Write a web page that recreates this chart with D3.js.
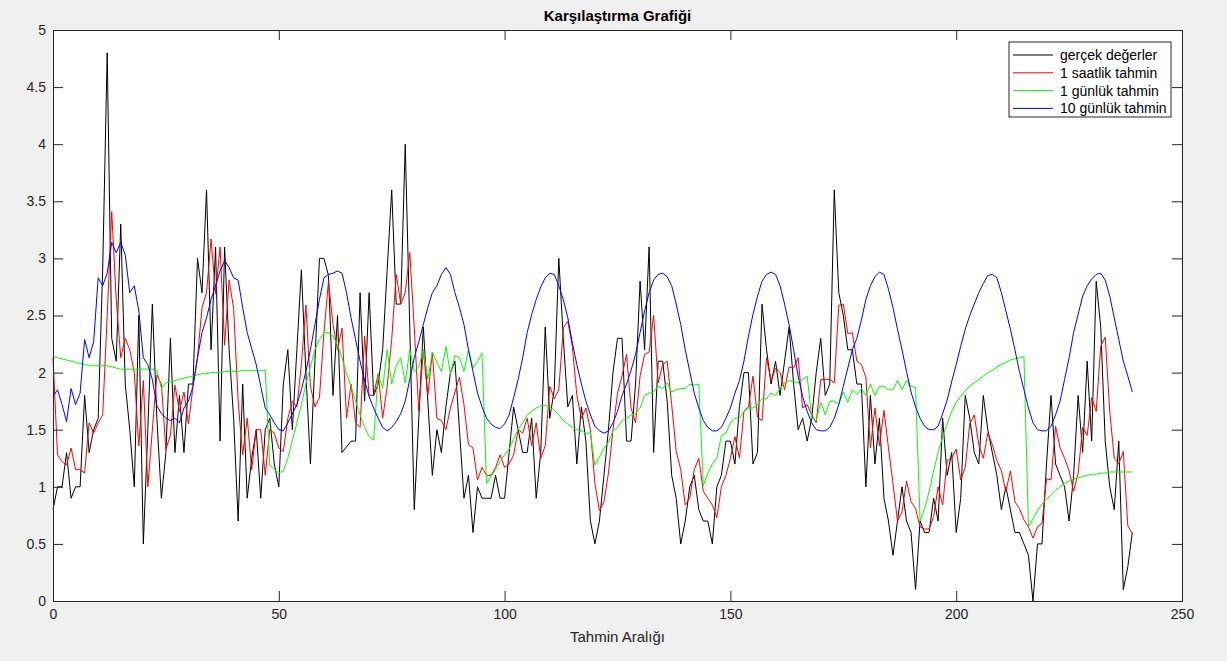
<!DOCTYPE html>
<html>
<head>
<meta charset="utf-8">
<script src="https://cdn.jsdelivr.net/npm/d3@7"></script>
<style>
  body { margin: 0; background: #f0f0f0; }
  svg { display: block; font-family: "Liberation Sans", Arial, sans-serif; }
</style>
</head>
<body>
<script>
// gerçek değerler (black)
const actual = [
  0.8, 1.0, 1.0, 1.3, 0.9, 1.0, 1.0, 1.8, 1.3, 1.5,
  1.6, 2.9, 4.8, 2.3, 2.1, 3.3, 1.9, 1.5, 1.0, 2.5,
  0.5, 1.5, 2.6, 1.6, 0.9, 1.3, 2.3, 1.3, 1.8, 1.3,
  1.9, 1.9, 3.0, 2.7, 3.6, 2.2, 3.1, 1.4, 3.1, 2.2,
  1.6, 0.7, 1.9, 0.9, 1.25, 1.5, 0.9, 1.5, 1.6, 1.2,
  1.0, 1.9, 2.2, 1.5, 2.2, 2.9, 2.0, 1.2, 2.1, 3.0,
  3.0, 2.85, 1.8, 2.5, 1.3, 1.35, 1.4, 1.4, 2.7, 1.75,
  2.7, 1.8, 1.9, 2.2, 2.9, 3.6, 2.6, 2.6, 4.0, 2.4,
  0.8, 1.6, 2.4, 1.75, 1.1, 1.5, 1.3, 1.7, 2.0, 2.1,
  1.5, 0.9, 1.1, 0.6, 1.0, 0.9, 0.9, 0.9, 1.1, 0.9,
  0.9, 1.3, 1.7, 1.5, 1.3, 1.3, 1.6, 0.9, 1.3, 2.4,
  1.6, 1.85, 3.0, 2.3, 1.7, 1.8, 1.2, 1.7, 1.4, 0.7,
  0.5, 0.7, 1.1, 1.5, 2.0, 2.3, 2.3, 1.4, 1.4, 1.9,
  2.8, 2.2, 3.1, 1.3, 2.1, 2.1, 1.75, 1.1, 0.9, 0.5,
  0.7, 1.0, 1.1, 0.8, 0.7, 0.7, 0.5, 1.0, 1.1, 1.4,
  1.4, 1.2, 1.7, 2.0, 2.0, 1.2, 1.3, 2.6, 2.2, 1.9,
  2.1, 1.8, 2.1, 2.4, 1.9, 1.5, 1.6, 1.4, 1.6, 2.0,
  2.3, 1.8, 1.9, 3.6, 2.7, 2.5, 2.2, 2.2, 1.9, 1.9,
  1.0, 1.8, 1.2, 1.6, 0.9, 0.7, 0.4, 0.7, 1.0, 0.7,
  0.6, 0.1, 0.7, 0.6, 0.6, 0.9, 0.7, 1.6, 1.1, 1.3,
  0.6, 0.9, 1.8, 1.6, 1.3, 1.2, 1.8, 1.5, 1.3, 1.1,
  0.8, 1.0, 0.8, 0.6, 0.6, 0.5, 0.4, 0.0, 0.5, 0.5,
  1.2, 1.8, 1.2, 1.1, 1.0, 0.7, 1.1, 1.8, 1.3, 2.1,
  1.4, 2.8, 2.4, 1.4, 1.0, 0.8, 1.4, 0.1, 0.3, 0.6
];

// 1 saatlik tahmin (red)
const hourly = [
  2.13, 1.28, 1.22, 1.19, 1.34, 1.15, 1.15, 1.12, 1.56, 1.47,
  1.56, 1.63, 2.5, 3.41, 2.64, 2.13, 2.3, 2.2, 2.0, 1.36,
  1.93, 1.0, 1.5, 1.98, 1.9, 1.33, 1.45, 1.89, 1.66, 1.83,
  1.55, 1.88, 2.13, 2.57, 2.7, 3.17, 2.69, 3.1, 2.24, 2.81,
  2.56, 1.75, 1.28, 1.6, 1.15, 1.5, 1.5, 1.1, 1.5, 1.47,
  1.34, 1.31, 1.6, 1.75, 1.7, 2.07, 2.59, 1.88, 1.7, 1.78,
  2.35, 2.8, 2.42, 2.2, 2.39, 1.6, 1.9, 1.56, 1.52, 2.32,
  1.8, 1.8, 1.99, 1.6, 1.88, 2.29, 2.86, 2.6, 2.7, 3.05,
  2.39, 1.66, 2.2, 1.8, 2.18, 1.6, 1.58, 1.5, 1.69, 1.83,
  1.96, 1.72, 1.37, 1.34, 1.06, 1.17, 1.1, 1.1, 1.17, 1.28,
  1.17, 1.2, 1.28, 1.5, 1.47, 1.6, 1.36, 1.56, 1.25, 1.36,
  1.88, 1.77, 1.85, 2.39, 2.45, 2.23, 1.8, 1.6, 1.69, 1.5,
  1.03, 0.79, 0.87, 1.12, 1.5, 1.82, 1.97, 2.16, 1.69, 1.56,
  1.97, 2.16, 2.18, 2.5, 1.91, 2.07, 2.1, 1.72, 1.31, 1.15,
  0.84, 0.9, 1.15, 1.25, 0.96, 0.9, 0.84, 0.73, 1.0, 1.1,
  1.25, 1.44, 1.25, 1.66, 1.7, 1.97, 1.61, 1.58, 2.13, 1.93,
  2.04, 2.0, 1.85, 2.05, 2.04, 2.13, 1.69, 1.72, 1.63, 1.56,
  1.94, 1.94, 1.94, 1.91, 2.59, 2.6, 2.34, 2.35, 2.1, 2.07,
  1.96, 1.34, 1.69, 1.36, 1.67, 1.34, 1.03, 0.7, 0.78, 1.05,
  0.87, 0.81, 0.65, 0.63, 0.63, 0.74, 1.0, 0.84, 1.23, 1.25,
  1.33, 1.06, 1.17, 1.55, 1.63, 1.37, 1.25, 1.47, 1.37, 1.23,
  1.14, 0.96, 1.14, 0.87, 0.81, 0.71, 0.65, 0.55, 0.65, 0.68,
  1.07, 1.06, 1.53, 1.34, 1.25, 1.14, 0.96, 1.12, 1.52, 1.45,
  1.78, 1.66, 2.23, 2.31, 1.66, 1.25, 1.2, 1.31, 0.66, 0.59
];

// 1 günlük tahmin (green)
const daily = [
  2.14, 2.13, 2.12, 2.11, 2.10, 2.09, 2.08, 2.07, 2.06, 2.06,
  2.06, 2.06, 2.06, 2.05, 2.04, 2.03, 2.03, 2.03, 2.03, 2.03,
  2.03, 2.03, 2.03, 2.02, 1.86, 1.91, 1.92, 1.93, 1.94, 1.95,
  1.96, 1.97, 1.98, 1.99, 1.99, 2.0, 2.0, 2.0, 2.01, 2.01,
  2.01, 2.01, 2.02, 2.02, 2.02, 2.02, 2.02, 2.02, 1.19, 1.15,
  1.12, 1.14, 1.25, 1.41, 1.56, 1.72, 1.9, 2.05, 2.2, 2.29,
  2.35, 2.35, 2.32, 2.24, 2.13, 1.99, 1.88, 1.75, 1.63, 1.52,
  1.44, 1.41, 1.99, 1.86, 2.2, 1.9, 2.06, 2.13, 1.91, 2.2,
  2.01, 2.05, 2.2, 1.94, 2.18, 2.09, 2.01, 2.23, 1.99, 2.15,
  2.13, 2.01, 2.2, 2.04, 2.1, 2.17, 1.03, 1.09, 1.15, 1.22,
  1.28, 1.33, 1.42, 1.5, 1.56, 1.63, 1.66, 1.69, 1.71, 1.71,
  1.7, 1.67, 1.63, 1.58, 1.55, 1.52, 1.5, 1.49, 1.47, 1.47,
  1.19, 1.26, 1.34, 1.39, 1.49, 1.52, 1.58, 1.6, 1.63, 1.64,
  1.69, 1.8, 1.82, 1.83, 1.88, 1.86, 1.91, 1.83, 1.85, 1.86,
  1.86, 1.9, 1.89, 1.9, 1.01, 1.12, 1.2, 1.25, 1.45, 1.47,
  1.56, 1.6, 1.6, 1.66, 1.69, 1.69, 1.72, 1.77, 1.77, 1.82,
  1.8, 1.86, 1.91, 1.93, 1.92, 1.91, 1.94, 1.97, 1.6, 1.58,
  1.74, 1.63, 1.75, 1.75, 1.72, 1.83, 1.74, 1.85, 1.81, 1.86,
  1.8, 1.9, 1.8, 1.88, 1.88, 1.85, 1.85, 1.93, 1.85, 1.93,
  1.88, 1.87, 0.7, 0.81, 0.96, 1.14, 1.3, 1.44, 1.55, 1.66,
  1.74, 1.79, 1.84, 1.88, 1.91, 1.94, 1.97, 2.0, 2.02, 2.05,
  2.07, 2.09, 2.11, 2.12, 2.13, 2.14, 0.65, 0.72, 0.79, 0.85,
  0.89, 0.93, 0.97, 1.0, 1.03, 1.05, 1.07, 1.08, 1.09, 1.1,
  1.11, 1.11, 1.12, 1.12, 1.13, 1.13, 1.13, 1.13, 1.13, 1.13
];

// 10 günlük tahmin (blue)
const tenDay = [
  1.79, 1.85, 1.72, 1.57, 1.86, 1.72, 1.82, 2.29, 2.13, 2.27,
  2.83, 2.76, 2.87, 3.14, 3.05, 3.14, 3.03, 2.7, 2.76, 2.54,
  2.13, 2.07, 1.94, 1.71, 1.64, 1.6, 1.58, 1.6, 1.56, 1.69,
  1.75, 1.88, 2.13, 2.35, 2.48, 2.64, 2.76, 2.89, 2.98, 2.92,
  2.83, 2.81, 2.57, 2.35, 2.21, 2.07, 1.88, 1.69, 1.63, 1.56,
  1.5, 1.49, 1.56, 1.64, 1.72, 1.85, 2.01, 2.2, 2.42, 2.64,
  2.83, 2.86, 2.87, 2.89, 2.87, 2.7, 2.48, 2.29, 2.1, 1.93,
  1.79, 1.69, 1.6, 1.52, 1.49, 1.52, 1.57, 1.64, 1.75, 1.94,
  2.13, 2.27, 2.42, 2.57, 2.7, 2.76, 2.86, 2.92, 2.86, 2.7,
  2.57, 2.42, 2.2, 2.01, 1.82, 1.7, 1.6, 1.55, 1.52, 1.51,
  1.55, 1.63, 1.78, 1.94, 2.13, 2.35, 2.51, 2.64, 2.75, 2.83,
  2.87, 2.86, 2.76, 2.64, 2.48, 2.26, 2.07, 1.9, 1.75, 1.63,
  1.53, 1.49, 1.47, 1.49, 1.56, 1.66, 1.8, 1.9, 2.02, 2.16,
  2.35, 2.54, 2.7, 2.81, 2.86, 2.87, 2.84, 2.76, 2.6, 2.42,
  2.2, 2.01, 1.82, 1.69, 1.58, 1.52, 1.49, 1.49, 1.52, 1.6,
  1.69, 1.82, 1.93, 2.1, 2.32, 2.51, 2.67, 2.8, 2.86, 2.88,
  2.86, 2.76, 2.6, 2.42, 2.2, 1.97, 1.79, 1.66, 1.56, 1.5,
  1.49, 1.49, 1.52, 1.6, 1.72, 1.88, 2.04, 2.2, 2.3, 2.46,
  2.64, 2.76, 2.84, 2.88, 2.86, 2.73, 2.57, 2.38, 2.2, 2.01,
  1.83, 1.7, 1.6, 1.53, 1.5, 1.5, 1.53, 1.64, 1.76, 1.92,
  2.07, 2.23, 2.38, 2.5, 2.6, 2.7, 2.78, 2.85, 2.86, 2.83,
  2.7, 2.54, 2.38, 2.2, 2.01, 1.85, 1.69, 1.56, 1.5, 1.49,
  1.49, 1.53, 1.63, 1.75, 1.94, 2.13, 2.35, 2.51, 2.67, 2.76,
  2.82, 2.86, 2.87, 2.81, 2.67, 2.48, 2.29, 2.1, 1.97, 1.83
];

const seriesNames = ["gerçek değerler", "1 saatlik tahmin", "1 günlük tahmin", "10 günlük tahmin"];
const seriesColors = ["#000000", "#ff0000", "#00ff00", "#0000ff"];
const xTicks = [0, 50, 100, 150, 200, 250];
const yTicks = [0, 0.5, 1, 1.5, 2, 2.5, 3, 3.5, 4, 4.5, 5];

const width = 1227;
const height = 661;
const plot = { left: 53, right: 1182, top: 30, bottom: 601 };
const tickLen = 10;
const axisColor = "#262626";

const svg = d3.select("body").append("svg")
  .attr("width", width)
  .attr("height", height);

svg.append("rect")
  .attr("width", width)
  .attr("height", height)
  .attr("fill", "#f0f0f0");

const x = d3.scaleLinear().domain([0, 250]).range([plot.left, plot.right]);
const y = d3.scaleLinear().domain([0, 5]).range([plot.bottom, plot.top]);

svg.append("rect")
  .attr("x", plot.left)
  .attr("y", plot.top)
  .attr("width", plot.right - plot.left)
  .attr("height", plot.bottom - plot.top)
  .attr("fill", "#ffffff");

const allSeries = [actual, hourly, daily, tenDay];

const line = d3.line()
  .x((d, i) => x(i))
  .y((d) => y(d));

svg.append("g")
  .attr("class", "lines")
  .selectAll("path")
  .data(allSeries)
  .enter()
  .append("path")
  .attr("d", line)
  .attr("fill", "none")
  .attr("stroke", (d, i) => seriesColors[i])
  .attr("stroke-width", 1)
  .attr("stroke-linejoin", "round");

// axes, MATLAB style: box with ticks inside on all four sides
const bottomAxis = d3.axisBottom(x).tickValues(xTicks).tickSizeInner(-tickLen).tickSizeOuter(0).tickPadding(8).tickFormat(d3.format("~g"));
const topAxis = d3.axisTop(x).tickValues(xTicks).tickSizeInner(-tickLen).tickSizeOuter(0).tickFormat("");
const leftAxis = d3.axisLeft(y).tickValues(yTicks).tickSizeInner(-tickLen).tickSizeOuter(0).tickPadding(7).tickFormat(d3.format("~g"));
const rightAxis = d3.axisRight(y).tickValues(yTicks).tickSizeInner(-tickLen).tickSizeOuter(0).tickFormat("");

function styleAxis(g) {
  g.select(".domain").remove();
  g.selectAll(".tick line").attr("stroke", axisColor);
  g.selectAll(".tick text")
    .attr("fill", axisColor)
    .style("font-family", '"Liberation Sans", Arial, sans-serif')
    .style("font-size", "14px");
}

svg.append("g").attr("transform", `translate(0,${plot.bottom})`).call(bottomAxis).call(styleAxis);
svg.append("g").attr("transform", `translate(0,${plot.top})`).call(topAxis).call(styleAxis);
svg.append("g").attr("transform", `translate(${plot.left},0)`).call(leftAxis).call(styleAxis);
svg.append("g").attr("transform", `translate(${plot.right},0)`).call(rightAxis).call(styleAxis);

svg.append("rect")
  .attr("x", plot.left + 0.5)
  .attr("y", plot.top + 0.5)
  .attr("width", plot.right - plot.left)
  .attr("height", plot.bottom - plot.top)
  .attr("fill", "none")
  .attr("stroke", axisColor)
  .attr("stroke-width", 1);

svg.append("text")
  .attr("x", (plot.left + plot.right) / 2)
  .attr("y", 21)
  .attr("text-anchor", "middle")
  .attr("font-size", "15px")
  .attr("font-weight", "bold")
  .attr("fill", "#000")
  .text("Karşılaştırma Grafiği");

svg.append("text")
  .attr("x", (plot.left + plot.right) / 2)
  .attr("y", 642)
  .attr("text-anchor", "middle")
  .attr("font-size", "15px")
  .attr("fill", axisColor)
  .text("Tahmin Aralığı");

// legend
const legend = svg.append("g").attr("transform", "translate(1009,42)");

legend.append("rect")
  .attr("width", 162)
  .attr("height", 75)
  .attr("fill", "#ffffff")
  .attr("stroke", axisColor)
  .attr("stroke-width", 1);

const items = legend.selectAll("g.item")
  .data(seriesNames)
  .enter()
  .append("g")
  .attr("class", "item")
  .attr("transform", (d, i) => `translate(0,${13 + i * 17.8})`);

items.append("line")
  .attr("x1", 4)
  .attr("x2", 44)
  .attr("stroke", (d, i) => seriesColors[i])
  .attr("stroke-width", 1);

items.append("text")
  .attr("x", 51)
  .attr("dy", "0.35em")
  .attr("font-size", "14px")
  .attr("fill", "#000")
  .text((d) => d);
</script>
</body>
</html>
